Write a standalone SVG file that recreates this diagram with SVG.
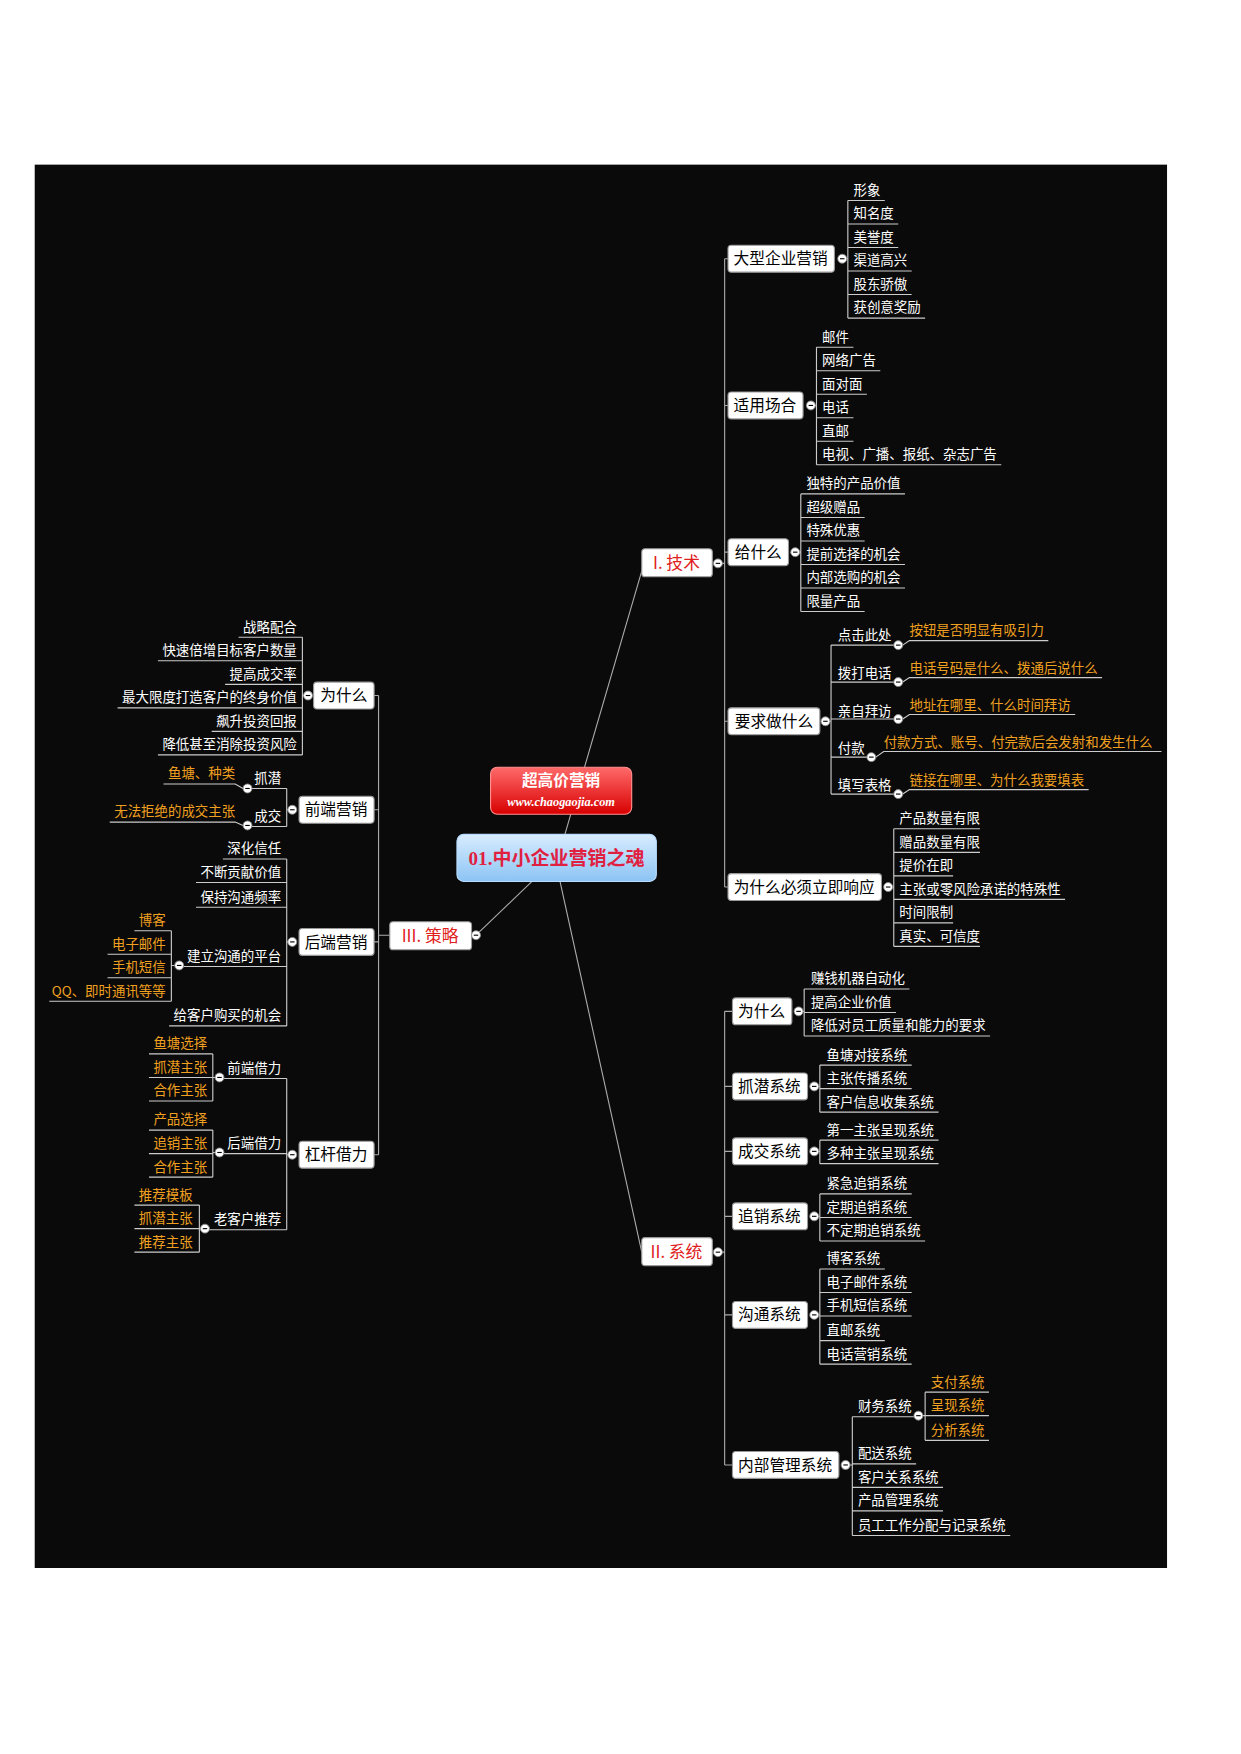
<svg xmlns="http://www.w3.org/2000/svg" xmlns:xlink="http://www.w3.org/1999/xlink" width="1241" height="1754" viewBox="0 0 1241 1754">
<defs>
<style>
text{font-family:"Noto Sans CJK SC","Liberation Sans",sans-serif}
.lf{fill:#fff;font-size:12px}
.lr{fill:#fff;font-size:12px;text-anchor:end}
.or{fill:#f0a020;font-size:12px}
.orr{fill:#f0a020;font-size:12px;text-anchor:end}
.bx{fill:#fff;stroke:#999;stroke-width:1}
.bt{fill:#000;font-size:14px;text-anchor:middle}
.mt{fill:#e02020;font-size:15px;text-anchor:middle}
.ln{fill:none;stroke:#aaa;stroke-width:1}
.ul{fill:none;stroke:#ccc;stroke-width:1}
</style>
<linearGradient id="gr" x1="0" y1="0" x2="0" y2="1"><stop offset="0" stop-color="#ff6a6a"/><stop offset="1" stop-color="#d80000"/></linearGradient>
<linearGradient id="gb" x1="0" y1="0" x2="0" y2="1"><stop offset="0" stop-color="#d8ecff"/><stop offset="1" stop-color="#8cc4f4"/></linearGradient>
<g id="col"><circle r="4" fill="#fff" stroke="#888" stroke-width="0.8"/><path d="M-2,0H2" stroke="#000" stroke-width="1"/></g>
</defs>
<rect width="1241" height="1754" fill="#fff"/>
<g transform="scale(1.12)">
<rect x="31" y="147" width="1011" height="1253" fill="#0a0a0a"/>
<g id="connectors">
<path class="ln" d="M575,503 L500,760 M500,787 L573,1118 M425,835 L475,787"/>
<path class="ln" d="M641,503 H647 M647,231 V792 M647,231 H650 M647,362 H650 M647,493 H650 M647,644 H650 M647,792 H650"/>
<path class="ln" d="M641,1118 H647 M647,903 V1308 M647,903 H654 M647,970 H654 M647,1028 H654 M647,1086 H654 M647,1174 H654 M647,1308 H654"/>
<path class="ln" d="M425,835 H421 M348,835 H338 M338,621 V1031 M338,621 H334 M338,723 H334 M338,841 H334 M338,1031 H334"/>
<path class="ul" d="M752,231 H757 M757,179 V284 M757,179 H790 M757,200 H802 M757,221 H802 M757,242 H814 M757,263 H814 M757,284 H826"/>
<path class="ul" d="M724,362 H729 M729,310 V415 M729,310 H762 M729,331 H786 M729,352 H774 M729,373 H762 M729,394 H762 M729,415 H894"/>
<path class="ul" d="M710,493 H715 M715,441 V546 M715,441 H808 M715,462 H772 M715,483 H772 M715,504 H808 M715,525 H808 M715,546 H772"/>
<path class="ul" d="M737,644 H742 M742,576 V709 M742,576 H798 M742,609 H798 M742,642 H798 M742,676 H774 M742,709 H798"/>
<path class="ul" d="M806,576 L812,572 H936 M806,609 L812,605 H984 M806,642 L812,638 H960 M782,676 L789,671 H1037 M806,709 L812,705 H972"/>
<path class="ul" d="M793,792 H798 M798,740 V845 M798,740 H875 M798,761 H875 M798,782 H851 M798,803 H951 M798,824 H851 M798,845 H875"/>
<path class="ul" d="M713,903 H718 M718,883 V925 M718,883 H812 M718,904 H800 M718,925 H884"/>
<path class="ul" d="M727,970 H732 M732,951 V993 M732,951 H814 M732,972 H814 M732,993 H838"/>
<path class="ul" d="M727,1028 H732 M732,1018 V1039 M732,1018 H838 M732,1039 H838"/>
<path class="ul" d="M727,1086 H732 M732,1066 V1108 M732,1066 H814 M732,1087 H814 M732,1108 H826"/>
<path class="ul" d="M727,1174 H732 M732,1133 V1218 M732,1133 H790 M732,1154 H814 M732,1175 H814 M732,1197 H790 M732,1218 H814"/>
<path class="ul" d="M755,1308 H761 M761,1265 V1371 M761,1265 H816 M761,1307 H818 M761,1328 H842 M761,1349 H842 M761,1371 H902"/>
<path class="ul" d="M824,1264 H826 M826,1243 V1286 M826,1243 H883 M826,1264 H883 M826,1286 H883"/>
<path class="ul" d="M275,621 H270 M270,569 V674 M270,569 H213 M270,590 H141 M270,611 H201 M270,632 H105 M270,653 H189 M270,674 H141"/>
<path class="ul" d="M261,723 H256 M256,704 V738 M256,704 H225 M256,738 H225 M217,704 L210,700 H146 M217,737 L210,734 H98"/>
<path class="ul" d="M261,841 H256 M256,767 V916 M256,767 H199 M256,788 H175 M256,810 H175 M256,863 H164 M256,916 H151"/>
<path class="ul" d="M156,862 H153 M153,831 V894 M153,831 H120 M153,852 H96 M153,873 H96 M153,894 H44"/>
<path class="ul" d="M261,1031 H256 M256,963 V1098 M256,963 H200 M256,1030 H200 M256,1098 H187"/>
<path class="ul" d="M192,962 H190 M190,941 V983 M190,941 H133 M190,962 H133 M190,983 H133"/>
<path class="ul" d="M192,1029 H190 M190,1009 V1051 M190,1009 H133 M190,1030 H133 M190,1051 H133"/>
<path class="ul" d="M179,1097 H178 M178,1076 V1118 M178,1076 H120 M178,1097 H120 M178,1118 H120"/>
<use xlink:href="#col" x="641" y="503"/><use xlink:href="#col" x="641" y="1118"/><use xlink:href="#col" x="425" y="835"/>
<use xlink:href="#col" x="752" y="231"/><use xlink:href="#col" x="724" y="362"/><use xlink:href="#col" x="710" y="493"/><use xlink:href="#col" x="737" y="644"/><use xlink:href="#col" x="793" y="792"/>
<use xlink:href="#col" x="802" y="576"/><use xlink:href="#col" x="802" y="609"/><use xlink:href="#col" x="802" y="642"/><use xlink:href="#col" x="778" y="676"/><use xlink:href="#col" x="802" y="709"/>
<use xlink:href="#col" x="713" y="903"/><use xlink:href="#col" x="727" y="970"/><use xlink:href="#col" x="727" y="1028"/><use xlink:href="#col" x="727" y="1086"/><use xlink:href="#col" x="727" y="1174"/><use xlink:href="#col" x="755" y="1308"/><use xlink:href="#col" x="820" y="1264"/>
<use xlink:href="#col" x="275" y="621"/><use xlink:href="#col" x="261" y="723"/><use xlink:href="#col" x="261" y="841"/><use xlink:href="#col" x="261" y="1031"/>
<use xlink:href="#col" x="221" y="704"/><use xlink:href="#col" x="221" y="737"/><use xlink:href="#col" x="160" y="862"/><use xlink:href="#col" x="196" y="962"/><use xlink:href="#col" x="196" y="1029"/><use xlink:href="#col" x="183" y="1097"/>
</g>
<g id="center">
<rect x="438" y="685" width="126" height="42" rx="6" fill="url(#gr)" stroke="#ff9090"/>
<text x="501" y="702" fill="#fff" font-size="14" text-anchor="middle" font-weight="bold">超高价营销</text>
<text x="501" y="720" fill="#fff" font-size="11" text-anchor="middle" font-style="italic" style="font-family:'Liberation Serif',serif" font-weight="bold">www.chaogaojia.com</text>
<rect x="408" y="745" width="178" height="42" rx="6" fill="url(#gb)" stroke="#b8dcff"/>
<text x="497" y="772" fill="#e02040" font-size="17" text-anchor="middle" font-weight="bold"><tspan style="font-family:'Liberation Serif',serif">01.</tspan>中小企业营销之魂</text>
</g>
<g id="main-I"><rect class="bx" x="573" y="490" width="63" height="25" rx="3"/><text class="mt" x="604" y="508">I. 技术</text></g>
<g id="main-II"><rect class="bx" x="573" y="1105" width="63" height="25" rx="3"/><text class="mt" x="604" y="1123">II. 系统</text></g>
<g id="main-III"><rect class="bx" x="348" y="823" width="73" height="25" rx="3"/><text class="mt" x="384" y="841">III. 策略</text></g>
<g id="n-big"><rect class="bx" x="650" y="219" width="95" height="24" rx="3"/><text class="bt" x="697" y="236">大型企业营销</text>
<text class="lf" x="762" y="174">形象</text><text class="lf" x="762" y="195">知名度</text><text class="lf" x="762" y="216">美誉度</text><text class="lf" x="762" y="237">渠道高兴</text><text class="lf" x="762" y="258">股东骄傲</text><text class="lf" x="762" y="279">获创意奖励</text></g>
<g id="n-use"><rect class="bx" x="650" y="350" width="67" height="24" rx="3"/><text class="bt" x="683" y="367">适用场合</text>
<text class="lf" x="734" y="305">邮件</text><text class="lf" x="734" y="326">网络广告</text><text class="lf" x="734" y="347">面对面</text><text class="lf" x="734" y="368">电话</text><text class="lf" x="734" y="389">直邮</text><text class="lf" x="734" y="410">电视、广播、报纸、杂志广告</text></g>
<g id="n-give"><rect class="bx" x="650" y="481" width="54" height="24" rx="3"/><text class="bt" x="677" y="498">给什么</text>
<text class="lf" x="720" y="436">独特的产品价值</text><text class="lf" x="720" y="457">超级赠品</text><text class="lf" x="720" y="478">特殊优惠</text><text class="lf" x="720" y="499">提前选择的机会</text><text class="lf" x="720" y="520">内部选购的机会</text><text class="lf" x="720" y="541">限量产品</text></g>
<g id="n-ask"><rect class="bx" x="650" y="632" width="82" height="24" rx="3"/><text class="bt" x="691" y="649">要求做什么</text>
<text class="lf" x="748" y="571">点击此处</text><text class="lf" x="748" y="605">拨打电话</text><text class="lf" x="748" y="639">亲自拜访</text><text class="lf" x="748" y="672">付款</text><text class="lf" x="748" y="705">填写表格</text>
<text class="or" x="812" y="567">按钮是否明显有吸引力</text><text class="or" x="812" y="601">电话号码是什么、拨通后说什么</text><text class="or" x="812" y="634">地址在哪里、什么时间拜访</text><text class="or" x="789" y="667">付款方式、账号、付完款后会发射和发生什么</text><text class="or" x="812" y="701">链接在哪里、为什么我要填表</text></g>
<g id="n-why"><rect class="bx" x="650" y="780" width="137" height="24" rx="3"/><text class="bt" x="718" y="797">为什么必须立即响应</text>
<text class="lf" x="803" y="735">产品数量有限</text><text class="lf" x="803" y="756">赠品数量有限</text><text class="lf" x="803" y="777">提价在即</text><text class="lf" x="803" y="798">主张或零风险承诺的特殊性</text><text class="lf" x="803" y="819">时间限制</text><text class="lf" x="803" y="840">真实、可信度</text></g>
<g id="s-why"><rect class="bx" x="654" y="891" width="53" height="24" rx="3"/><text class="bt" x="680" y="908">为什么</text>
<text class="lf" x="724" y="878">赚钱机器自动化</text><text class="lf" x="724" y="899">提高企业价值</text><text class="lf" x="724" y="920">降低对员工质量和能力的要求</text></g>
<g id="s-lead"><rect class="bx" x="654" y="958" width="67" height="24" rx="3"/><text class="bt" x="687" y="975">抓潜系统</text>
<text class="lf" x="738" y="946">鱼塘对接系统</text><text class="lf" x="738" y="967">主张传播系统</text><text class="lf" x="738" y="988">客户信息收集系统</text></g>
<g id="s-deal"><rect class="bx" x="654" y="1016" width="67" height="24" rx="3"/><text class="bt" x="687" y="1033">成交系统</text>
<text class="lf" x="738" y="1013">第一主张呈现系统</text><text class="lf" x="738" y="1034">多种主张呈现系统</text></g>
<g id="s-follow"><rect class="bx" x="654" y="1074" width="67" height="24" rx="3"/><text class="bt" x="687" y="1091">追销系统</text>
<text class="lf" x="738" y="1061">紧急追销系统</text><text class="lf" x="738" y="1082">定期追销系统</text><text class="lf" x="738" y="1103">不定期追销系统</text></g>
<g id="s-comm"><rect class="bx" x="654" y="1162" width="67" height="24" rx="3"/><text class="bt" x="687" y="1179">沟通系统</text>
<text class="lf" x="738" y="1128">博客系统</text><text class="lf" x="738" y="1149">电子邮件系统</text><text class="lf" x="738" y="1170">手机短信系统</text><text class="lf" x="738" y="1192">直邮系统</text><text class="lf" x="738" y="1213">电话营销系统</text></g>
<g id="s-mgmt"><rect class="bx" x="654" y="1296" width="95" height="24" rx="3"/><text class="bt" x="701" y="1313">内部管理系统</text>
<text class="lf" x="766" y="1260">财务系统</text><text class="lf" x="766" y="1302">配送系统</text><text class="lf" x="766" y="1323">客户关系系统</text><text class="lf" x="766" y="1344">产品管理系统</text><text class="lf" x="766" y="1366">员工工作分配与记录系统</text>
<text class="or" x="831" y="1238">支付系统</text><text class="or" x="831" y="1259">呈现系统</text><text class="or" x="831" y="1281">分析系统</text></g>
<g id="t-why"><rect class="bx" x="280" y="609" width="54" height="24" rx="3"/><text class="bt" x="307" y="626">为什么</text>
<text class="lr" x="265" y="564">战略配合</text><text class="lr" x="265" y="585">快速倍增目标客户数量</text><text class="lr" x="265" y="606">提高成交率</text><text class="lr" x="265" y="627">最大限度打造客户的终身价值</text><text class="lr" x="265" y="648">飙升投资回报</text><text class="lr" x="265" y="669">降低甚至消除投资风险</text></g>
<g id="t-front"><rect class="bx" x="267" y="711" width="67" height="24" rx="3"/><text class="bt" x="300" y="728">前端营销</text>
<text class="lr" x="251" y="699">抓潜</text><text class="lr" x="251" y="733">成交</text>
<text class="orr" x="210" y="695">鱼塘、种类</text><text class="orr" x="210" y="729">无法拒绝的成交主张</text></g>
<g id="t-back"><rect class="bx" x="267" y="829" width="67" height="24" rx="3"/><text class="bt" x="300" y="846">后端营销</text>
<text class="lr" x="251" y="762">深化信任</text><text class="lr" x="251" y="783">不断贡献价值</text><text class="lr" x="251" y="805">保持沟通频率</text><text class="lr" x="251" y="858">建立沟通的平台</text><text class="lr" x="251" y="911">给客户购买的机会</text>
<text class="orr" x="148" y="826">博客</text><text class="orr" x="148" y="847">电子邮件</text><text class="orr" x="148" y="868">手机短信</text><text class="orr" x="148" y="889">QQ、即时通讯等等</text></g>
<g id="t-lever"><rect class="bx" x="267" y="1019" width="67" height="24" rx="3"/><text class="bt" x="300" y="1036">杠杆借力</text>
<text class="lr" x="251" y="958">前端借力</text><text class="lr" x="251" y="1025">后端借力</text><text class="lr" x="251" y="1093">老客户推荐</text>
<text class="orr" x="185" y="936">鱼塘选择</text><text class="orr" x="185" y="957">抓潜主张</text><text class="orr" x="185" y="978">合作主张</text>
<text class="orr" x="185" y="1004">产品选择</text><text class="orr" x="185" y="1025">追销主张</text><text class="orr" x="185" y="1046">合作主张</text>
<text class="orr" x="172" y="1071">推荐模板</text><text class="orr" x="172" y="1092">抓潜主张</text><text class="orr" x="172" y="1113">推荐主张</text></g>
</g>
</svg>
